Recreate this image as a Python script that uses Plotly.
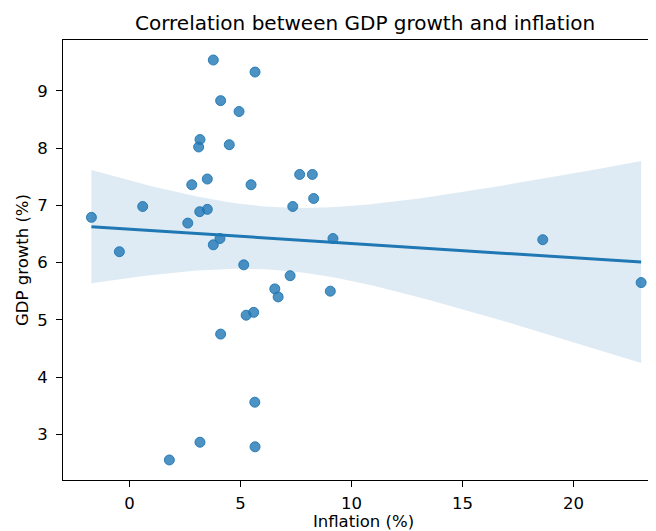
import numpy as np
import plotly.graph_objects as go

# Data
inflation = [3.78, 5.66, 4.11, 4.94, 3.18, 3.12, 4.50, 7.67, 8.24, 2.81, 3.51, 5.48,
             8.30, 0.60, 7.36, -1.71, 3.17, 3.51, 2.63, 4.08, 3.78, 9.17, -0.45, 5.15,
             7.24, 6.55, 6.70, 9.05, 5.26, 5.60, 4.11, 5.65, 3.18, 5.66, 1.80, 18.62, 23.05]
gdp_growth = [9.54, 9.33, 8.83, 8.64, 8.15, 8.02, 8.06, 7.54, 7.54, 7.36, 7.46, 7.36,
              7.12, 6.98, 6.98, 6.79, 6.89, 6.93, 6.69, 6.42, 6.31, 6.42, 6.19, 5.96,
              5.77, 5.54, 5.40, 5.50, 5.08, 5.13, 4.75, 3.56, 2.86, 2.78, 2.55, 6.40, 5.65]
x_ticks = [0, 5, 10, 15, 20]
y_ticks = [3, 4, 5, 6, 7, 8, 9]

# Linear fit with a 95% confidence band
x = np.array(inflation)
y = np.array(gdp_growth)
n = len(x)
X = np.column_stack([np.ones(n), x])
XtX_inv = np.linalg.inv(X.T @ X)
beta = XtX_inv @ X.T @ y
resid = y - X @ beta
h = np.einsum("ij,jk,ik->i", X, XtX_inv, X)
s2 = (resid ** 2).sum() / (n - 2)
cov_ols = XtX_inv * s2
cov_hc3 = XtX_inv @ (X.T @ (X * (resid ** 2 / (1 - h) ** 2)[:, None])) @ XtX_inv
cov = 0.5 * (cov_ols + cov_hc3)

grid = np.linspace(x.min(), x.max(), 100)
G = np.column_stack([np.ones_like(grid), grid])
fit = G @ beta
se = np.sqrt(np.einsum("ij,jk,ik->i", G, cov, G))
upper = fit + 1.96 * se
lower = fit - 1.96 * se

blue = "#1f77b4"
fig = go.Figure()
fig.add_trace(go.Scatter(
    x=np.concatenate([grid, grid[::-1]]),
    y=np.concatenate([upper, lower[::-1]]),
    fill="toself", fillcolor="rgba(31,119,180,0.15)",
    line=dict(width=0), mode="lines", hoverinfo="skip", showlegend=False))
fig.add_trace(go.Scatter(
    x=inflation, y=gdp_growth, mode="markers",
    marker=dict(size=10, color="rgba(31,119,180,0.8)",
                line=dict(width=1, color="rgba(31,119,180,0.9)")),
    showlegend=False))
fig.add_trace(go.Scatter(
    x=grid, y=fit, mode="lines", line=dict(color=blue, width=3), showlegend=False))

font = "DejaVu Sans"
fig.update_layout(
    width=656, height=523,
    margin=dict(l=55, r=0, t=32, b=51),
    paper_bgcolor="white", plot_bgcolor="white",
    font=dict(family=font, size=16.5, color="black"),
    annotations=[dict(text="Correlation between GDP growth and inflation",
                      xref="paper", yref="paper", x=(356.5 - 55) / (656 - 55), y=1,
                      xanchor="center", yanchor="bottom", yshift=3, showarrow=False,
                      font=dict(family=font, size=20, color="black"))],
)
fig.update_xaxes(
    range=[-2.99, 24.08], tickvals=x_ticks, ticks="outside", ticklen=6,
    tickcolor="black", showline=True, linecolor="black", linewidth=1, mirror=True,
    showgrid=False, zeroline=False, automargin=False, ticklabelstandoff=2,
    title=dict(text="Inflation (%)", font=dict(size=16.5), standoff=5))
fig.update_yaxes(
    range=[2.2, 9.89], tickvals=y_ticks, ticks="outside", ticklen=6,
    tickcolor="black", showline=True, linecolor="black", linewidth=1, mirror=False,
    showgrid=False, zeroline=False, automargin=False, ticklabelstandoff=5,
    title=dict(text="GDP growth (%)", font=dict(size=16.5), standoff=4))
fig.write_html("out.html")
